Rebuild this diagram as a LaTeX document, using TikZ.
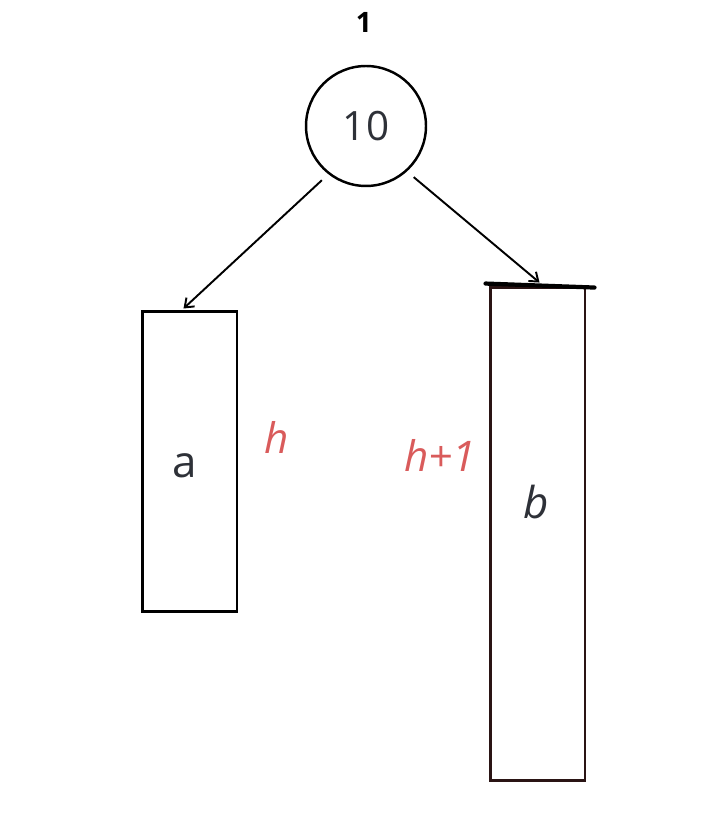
\documentclass[tikz,border=0pt]{standalone}
\usepackage{fontspec}
\setmainfont{Open Sans}
\usepackage{tikz}
\usetikzlibrary{arrows.meta, positioning, calc}
\definecolor{hred}{HTML}{D95B5B}
\definecolor{inkgray}{HTML}{2E3138}
\definecolor{darkbrown}{HTML}{2A1414}
\tikzstyle{keynode} = [circle, draw=black, line width=1.4pt, minimum size=2.4cm, text=inkgray, font=\fontsize{23}{26}\selectfont]
\tikzstyle{subtree} = [rectangle, draw=black, line width=1.7pt, minimum width=1.9cm]
\tikzstyle{treename} = [text=inkgray, font=\fontsize{25}{28}\selectfont]
\tikzstyle{height} = [text=hred, font=\fontsize{24}{28}\selectfont\itshape]
\tikzstyle{arrow} = [line width=1.1pt, ->, >={Straight Barb[length=1.6mm, width=2.4mm]}]

\begin{document}
\begin{tikzpicture}[x=0.02cm, y=-0.02cm]
    \useasboundingbox (0,0) rectangle (708,830);
    \node[keynode] (root) at (366,126) {10};
    \node[font=\fontsize{16}{18}\selectfont\bfseries] (balance) at (364,22) {1};
    \node[subtree, minimum height=6.02cm] (lefttree) at (189.5,461.5) {};
    \node[treename] (aname) at (185,466) {a};
    \node[subtree, draw=darkbrown, minimum height=9.88cm] (righttree) at (537.5,534) {};
    \node[treename, font=\fontsize{25}{28}\selectfont\itshape] (bname) at (536,502) {b};
    \draw[line width=2.4pt, line cap=round] ($(righttree.north west)+(-3,-2)$) -- ($(righttree.north east)+(8,2)$);
    \node[height] (hleft) at (277,437) {h};
    \node[height] (hright) at (440,455) {h+1};

    \draw[arrow, shorten <=5pt] (root.232) -- ($(lefttree.north)+(-6,-1)$);
    \draw[arrow, shorten <=5pt] (root.-48) -- ($(righttree.north)+(2,-3)$);
\end{tikzpicture}
\end{document}
